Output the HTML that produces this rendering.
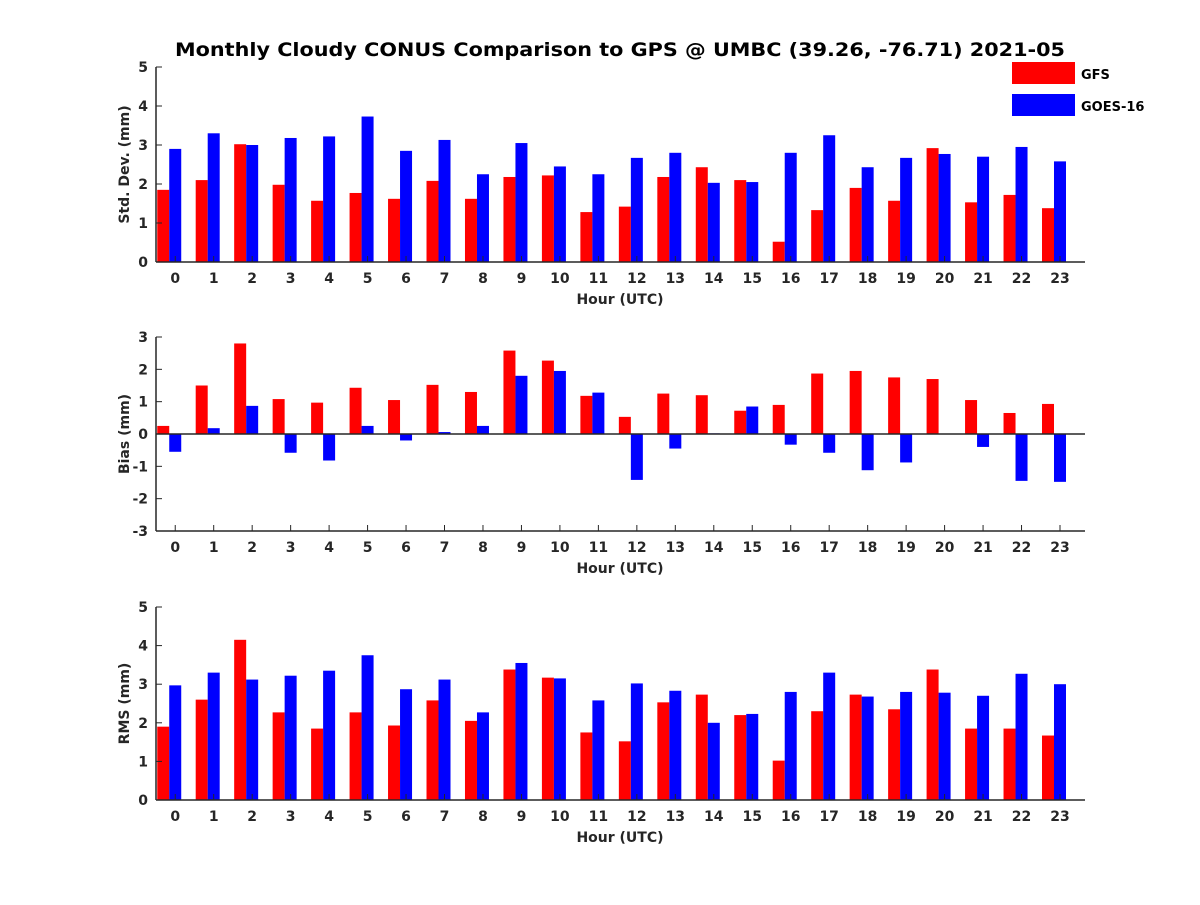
<!DOCTYPE html>
<html><head><meta charset="utf-8"><style>
body{margin:0;background:#fff}
svg text{font-family:"DejaVu Sans","Liberation Sans",sans-serif;font-weight:bold;fill:#262626}
</style></head><body>
<svg id="chart" width="1200" height="900" xmlns="http://www.w3.org/2000/svg">
<text x="175" y="56" font-size="19" textLength="890" lengthAdjust="spacingAndGlyphs" style="fill:#000">Monthly Cloudy CONUS Comparison to GPS @ UMBC (39.26, -76.71) 2021-05</text>
<g>
<rect x="1012" y="62" width="63" height="22" fill="#ff0000"/>
<text x="1081" y="79" font-size="13" style="fill:#000">GFS</text>
<rect x="1012" y="94" width="63" height="22" fill="#0000ff"/>
<text x="1081" y="111" font-size="13" style="fill:#000">GOES-16</text>
</g>
</svg>
<script>
const hours=[0,1,2,3,4,5,6,7,8,9,10,11,12,13,14,15,16,17,18,19,20,21,22,23];
const stdGFS=[1.85,2.1,3.02,1.98,1.57,1.77,1.62,2.08,1.62,2.18,2.22,1.28,1.42,2.18,2.43,2.1,0.52,1.33,1.9,1.57,2.92,1.53,1.72,1.38];
const stdGOES=[2.9,3.3,3.0,3.18,3.22,3.73,2.85,3.13,2.25,3.05,2.45,2.25,2.67,2.8,2.03,2.05,2.8,3.25,2.43,2.67,2.77,2.7,2.95,2.58];
const biasGFS=[0.25,1.5,2.8,1.08,0.97,1.43,1.05,1.52,1.3,2.58,2.27,1.18,0.53,1.25,1.2,0.72,0.9,1.87,1.95,1.75,1.7,1.05,0.65,0.93];
const biasGOES=[-0.55,0.18,0.87,-0.58,-0.82,0.25,-0.2,0.06,0.25,1.8,1.95,1.28,-1.42,-0.45,0.02,0.85,-0.33,-0.58,-1.12,-0.88,0,-0.4,-1.45,-1.48];
const rmsGFS=[1.9,2.6,4.15,2.27,1.85,2.27,1.93,2.58,2.05,3.38,3.17,1.75,1.52,2.53,2.73,2.2,1.02,2.3,2.73,2.35,3.38,1.85,1.85,1.67];
const rmsGOES=[2.97,3.3,3.12,3.22,3.35,3.75,2.87,3.12,2.27,3.55,3.15,2.58,3.02,2.83,2.0,2.23,2.8,3.3,2.68,2.8,2.78,2.7,3.27,3.0];
const stdTicks=[0,1,2,3,4,5];
const biasTicks=[-3,-2,-1,0,1,2,3];
const rmsTicks=[0,1,2,3,4,5];

const NS="http://www.w3.org/2000/svg";
const svg=document.getElementById('chart');
function mk(t,a,p){const e=document.createElementNS(NS,t);for(const k in a)e.setAttribute(k,a[k]);(p||svg).appendChild(e);return e;}
const X0=156,X1=1085,XMIN=-0.5,XMAX=23.65;
function xs(h){return X0+(h-XMIN)/(XMAX-XMIN)*(X1-X0);}

function panel(name,top,bot,ymin,ymax,ticks,gfs,goes,ylabel){
  const g=mk('g',{});
  
  
  const ys=v=>bot-(v-ymin)/(ymax-ymin)*(bot-top);
  hours.forEach((h,i)=>{
    const c=xs(h);
    let v=gfs[i];
    const r=mk('rect',{x:c-18,y:Math.min(ys(v),ys(0)),width:12,height:Math.abs(ys(v)-ys(0)),fill:'#ff0000'},g);
    
    
    v=goes[i];
    const b=mk('rect',{x:c-6,y:Math.min(ys(v),ys(0)),width:12,height:Math.abs(ys(v)-ys(0)),fill:'#0000ff'},g);
    
    
  });
  mk('line',{x1:X0,y1:top,x2:X0,y2:bot,stroke:'#262626','stroke-width':1.5},g);
  mk('line',{x1:X0,y1:bot,x2:X1,y2:bot,stroke:'#262626','stroke-width':1.5},g);
  if(ymin<0) mk('line',{x1:X0,y1:ys(0),x2:X1,y2:ys(0),stroke:'#262626','stroke-width':1.5},g);
  ticks.forEach(t=>{
    const y=ys(t);
    mk('line',{x1:X0,y1:y,x2:X0+6,y2:y,stroke:'#262626'},g);
    const tx=mk('text',{x:X0-8,y:y+5,'text-anchor':'end','font-size':14},g);
    tx.textContent=t;
    
    
  });
  hours.forEach(h=>{
    const x=xs(h);
    mk('line',{x1:x,y1:bot,x2:x,y2:bot-6,stroke:'#262626'},g);
    const tx=mk('text',{x:x,y:bot+21,'text-anchor':'middle','font-size':14},g);
    tx.textContent=h;
    
    
  });
  const xl=mk('text',{x:620,y:bot+42,'text-anchor':'middle','font-size':14},g);
  xl.textContent='Hour (UTC)';
  
  
  const cy=(top+bot)/2;
  const yl=mk('text',{x:0,y:0,'text-anchor':'middle','font-size':14,transform:`translate(129,${cy}) rotate(-90)`},g);
  yl.textContent=ylabel;
  
  
}
panel('std',67,262,0,5,stdTicks,stdGFS,stdGOES,'Std. Dev. (mm)');
panel('bias',337,531,-3,3,biasTicks,biasGFS,biasGOES,'Bias (mm)');
panel('rms',607,800,0,5,rmsTicks,rmsGFS,rmsGOES,'RMS (mm)');
</script>
</body></html>
